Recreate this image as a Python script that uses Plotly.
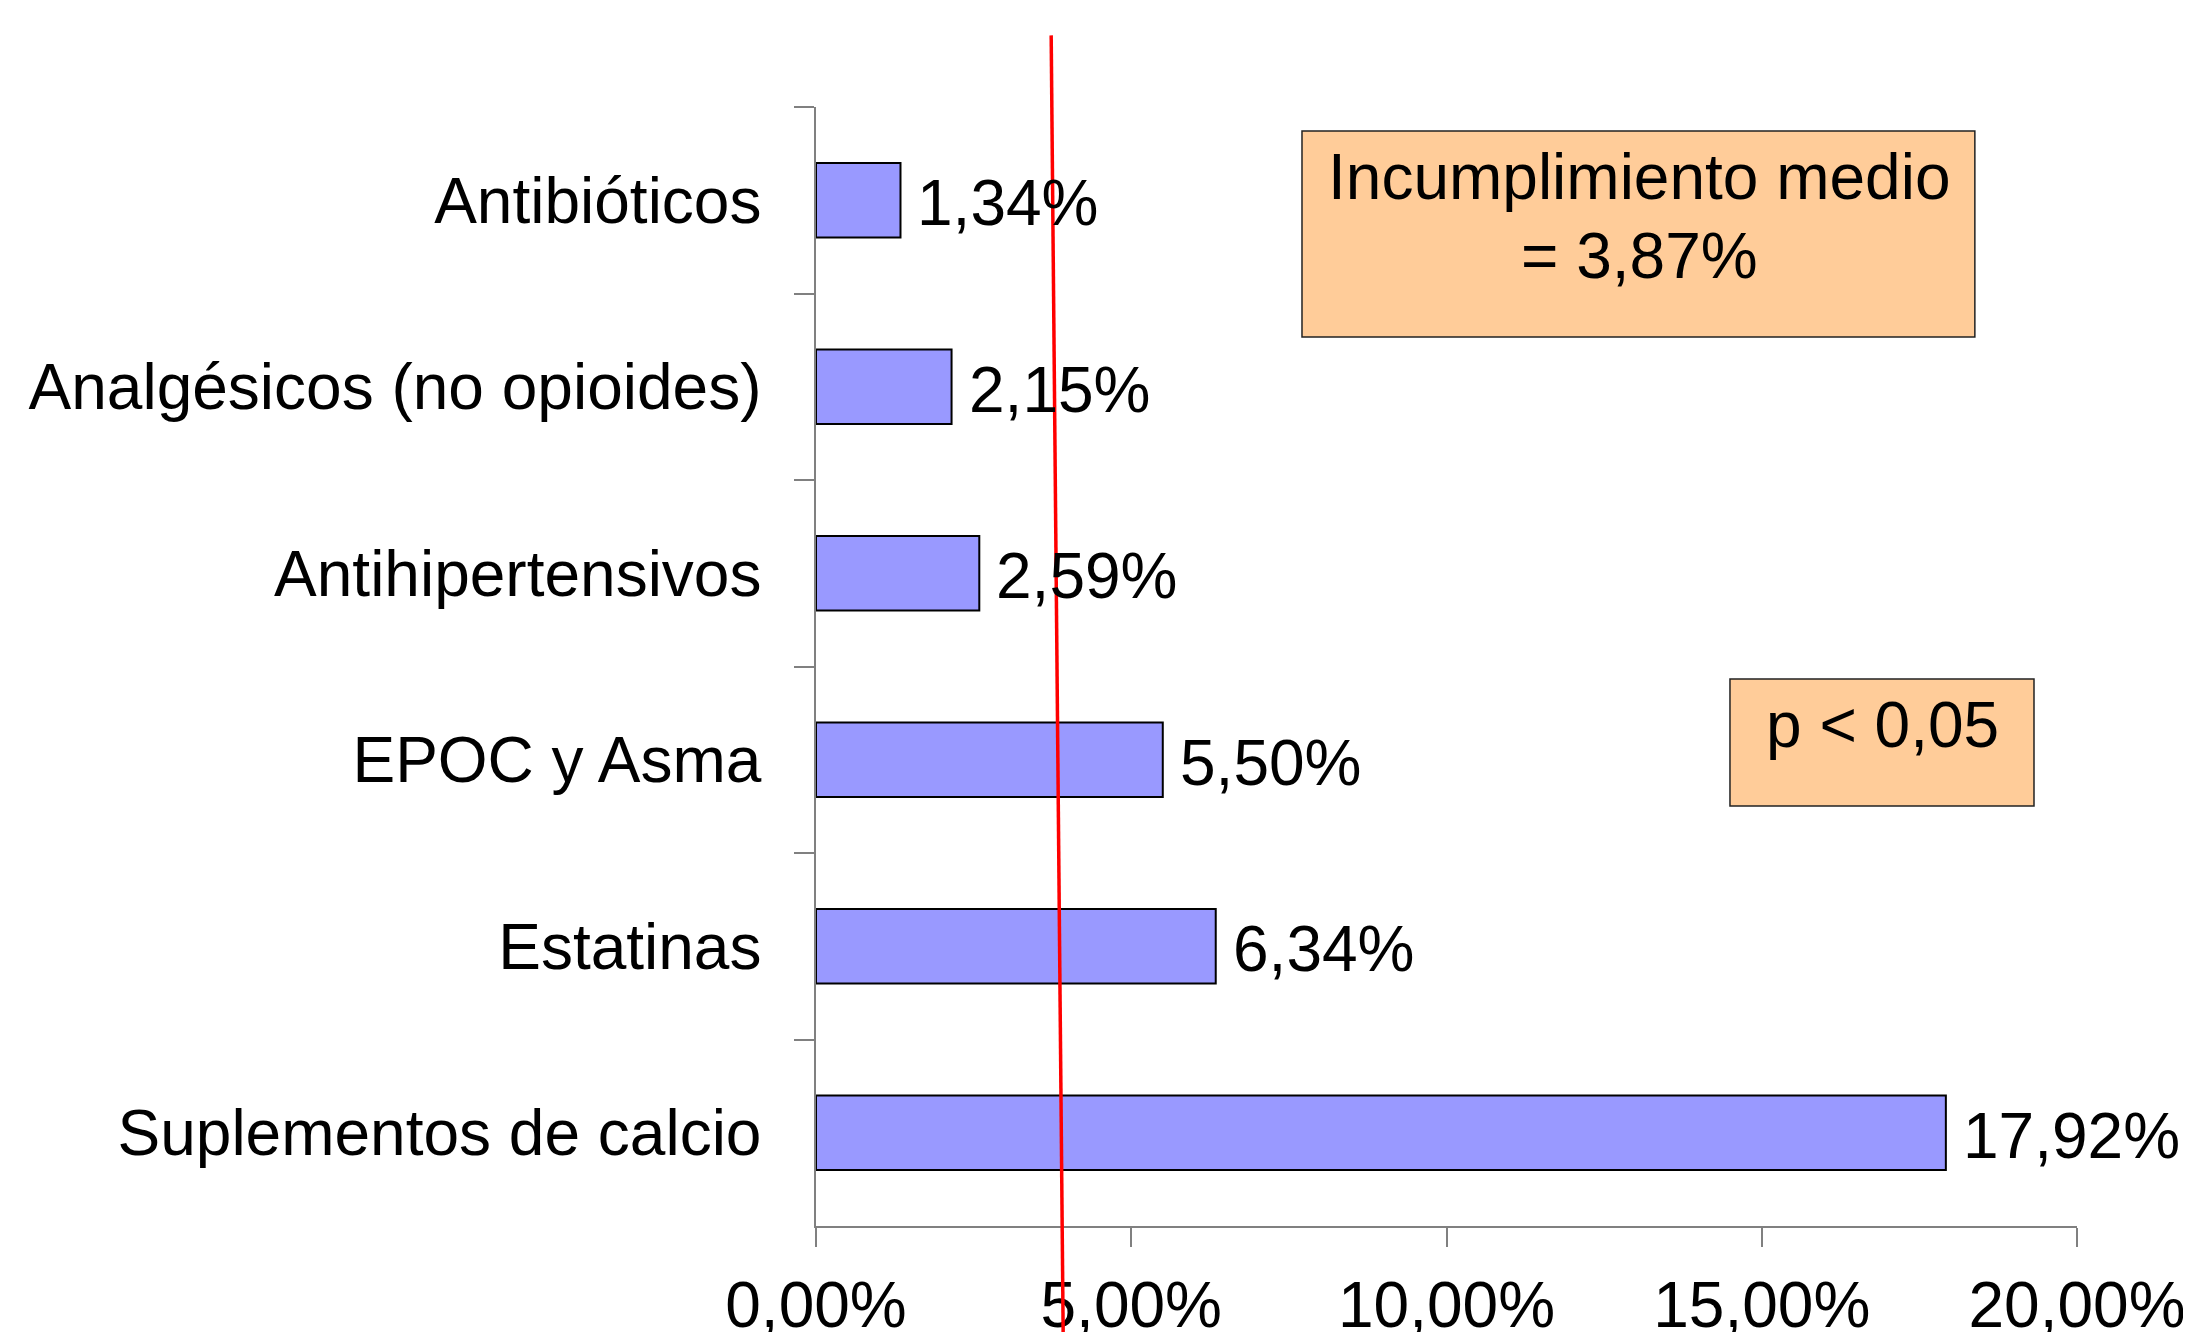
import plotly.graph_objects as go

categories = ["Antibióticos", "Analgésicos (no opioides)", "Antihipertensivos",
              "EPOC y Asma", "Estatinas", "Suplementos de calcio"]
values = [1.34, 2.15, 2.59, 5.50, 6.34, 17.92]
value_labels = ["1,34%", "2,15%", "2,59%", "5,50%", "6,34%", "17,92%"]
x_tickvals = [0, 5, 10, 15, 20]
x_ticktext = ["0,00%", "5,00%", "10,00%", "15,00%", "20,00%"]
mean_value = 3.87
mean_text = ["Incumplimiento medio", "= 3,87%"]
p_text = "p < 0,05"

FONT = "Liberation Sans, Arial, sans-serif"
FS = 64

fig = go.Figure()
fig.add_trace(go.Bar(
    x=values, y=categories, orientation="h",
    marker=dict(color="#9999FF", line=dict(color="black", width=2)),
    width=0.4, hoverinfo="skip",
))

for v, c, t in zip(values, categories, value_labels):
    fig.add_annotation(x=v, y=c, xref="x", yref="y", text=t, showarrow=False,
                       xanchor="left", yanchor="middle", xshift=15, yshift=-3,
                       font=dict(family=FONT, size=FS, color="black"))

# mean line (slightly tilted as in the original drawing)
fig.add_shape(type="line", xref="x", yref="paper",
              x0=mean_value - 0.14, x1=mean_value + 0.05, y0=1.064, y1=-0.095,
              line=dict(color="#FF0000", width=3.5), layer="above")

# text boxes
fig.add_shape(type="rect", xref="paper", yref="paper",
              x0=0.3854, x1=0.919, y0=0.7945, y1=0.9786,
              fillcolor="#FFCC99", line=dict(color="#222222", width=1.5), layer="below")
fig.add_annotation(xref="paper", yref="paper", x=0.6527, y=0.9374, text=mean_text[0],
                   showarrow=False, xanchor="center", yanchor="middle",
                   font=dict(family=FONT, size=FS, color="black"))
fig.add_annotation(xref="paper", yref="paper", x=0.6527, y=0.8668, text=mean_text[1],
                   showarrow=False, xanchor="center", yanchor="middle",
                   font=dict(family=FONT, size=FS, color="black"))

fig.add_shape(type="rect", xref="paper", yref="paper",
              x0=0.7248, x1=0.9659, y0=0.3753, y1=0.4888,
              fillcolor="#FFCC99", line=dict(color="#222222", width=1.5), layer="below")
fig.add_annotation(xref="paper", yref="paper", x=0.8454, y=0.4477, text=p_text,
                   showarrow=False, xanchor="center", yanchor="middle",
                   font=dict(family=FONT, size=FS, color="black"))

fig.update_layout(
    width=2183, height=1324,
    margin=dict(l=808, r=114, t=99, b=106, autoexpand=False),
    plot_bgcolor="white", paper_bgcolor="white",
    showlegend=False,
    font=dict(family=FONT, size=FS, color="black"),
    bargap=0.6,
)
fig.update_xaxes(
    range=[0, 20], tickvals=x_tickvals, ticktext=x_ticktext,
    showgrid=False, zeroline=False, showline=True, linecolor="#808080", linewidth=1.5,
    ticks="outside", ticklen=19, tickcolor="#808080", tickwidth=1.5,
    tickfont=dict(family=FONT, size=FS, color="black"), ticklabelstandoff=3,
)
fig.update_yaxes(
    autorange="reversed", categoryorder="array", categoryarray=categories,
    showgrid=False, zeroline=False, showline=True, linecolor="#808080", linewidth=1.5,
    ticks="outside", ticklen=20, tickcolor="#808080", tickwidth=1.5, tickson="boundaries",
    tickfont=dict(family=FONT, size=FS, color="black"), ticklabelstandoff=40,
)

fig.write_html("out.html")
